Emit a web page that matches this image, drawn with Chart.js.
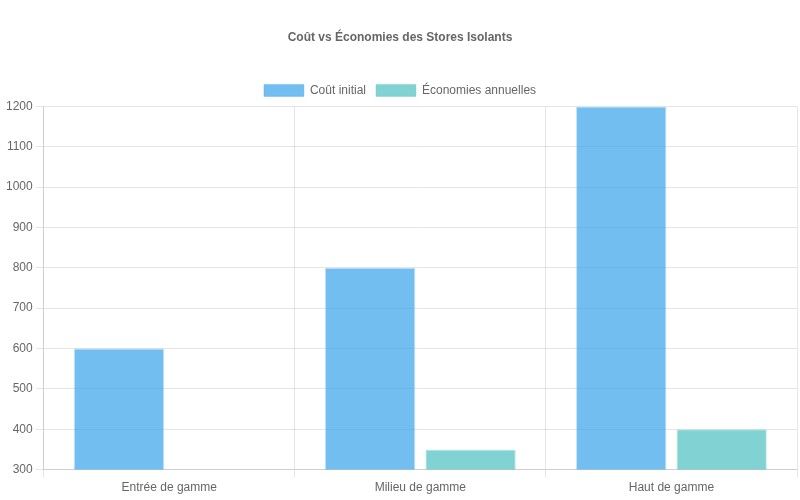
<!DOCTYPE html>
<html>
<head>
<meta charset="utf-8">
<script src="https://cdn.jsdelivr.net/npm/chart.js@4"></script>
<style>
  html, body { margin: 0; padding: 0; background: #fff; }
  #wrap { width: 800px; height: 500px; }
</style>
</head>
<body>
<div id="wrap"><canvas id="storesChart"></canvas></div>
<script>
// Data
const categories = ['Entrée de gamme', 'Milieu de gamme', 'Haut de gamme'];
const coutInitial = [600, 800, 1200];
const economiesAnnuelles = [250, 350, 400];

Chart.defaults.font.family = '"Liberation Sans", Arial, sans-serif';
Chart.defaults.color = '#666';

document.addEventListener('DOMContentLoaded', function () {
    const ctx = document.getElementById('storesChart');
    new Chart(ctx, {
        type: 'bar',
        data: {
            labels: categories,
            datasets: [{
                label: 'Coût initial',
                data: coutInitial,
                backgroundColor: 'rgba(54, 162, 235, 0.7)',
                borderColor: 'rgba(54, 162, 235, 0.3)',
                borderWidth: 1
            }, {
                label: 'Économies annuelles',
                data: economiesAnnuelles,
                backgroundColor: 'rgba(75, 192, 192, 0.7)',
                borderColor: 'rgba(75, 192, 192, 0.3)',
                borderWidth: 1
            }]
        },
        options: {
            responsive: true,
            maintainAspectRatio: false,
            animation: false,
            layout: { padding: { left: 3, right: 3, bottom: 2 } },
            plugins: {
                title: {
                    display: true,
                    text: 'Coût vs Économies des Stores Isolants',
                    font: { size: 12, weight: 'bold' },
                    padding: { top: 30, bottom: 30 }
                },
                legend: { position: 'top' }
            },
            scales: {
                y: {
                    min: 300, max: 1200,
                    ticks: { stepSize: 100, callback: v => String(v) }
                },
                x: {}
            }
        }
    });
});
</script>
</body>
</html>
